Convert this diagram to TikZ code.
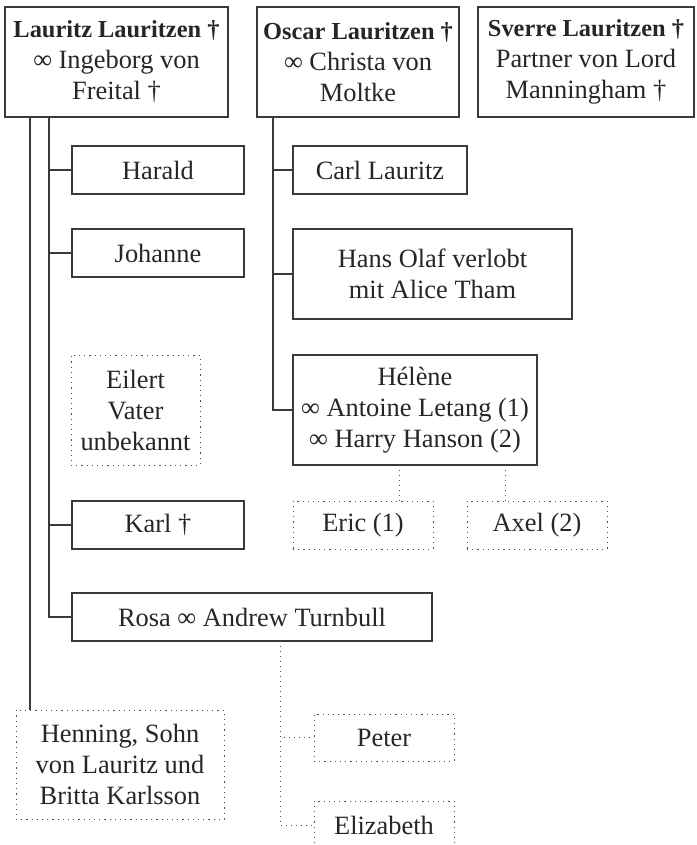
\documentclass[tikz,border=0pt]{standalone}
\usepackage{fontspec}
\setmainfont{Liberation Serif}
\definecolor{linegray}{HTML}{3A3A3A}
\newcommand{\headname}[1]{{\fontsize{12.2}{15.5}\selectfont\textbf{#1}}}
\tikzset{
  person/.style={draw=linegray, line width=0.6pt, align=center, inner sep=0pt,
    font=\fontsize{13.2}{15.5}\selectfont, text=black!85},
  unsure/.style={person, draw=black!70, dotted, line width=0.5pt},
  line/.style={draw=linegray, line width=0.6pt},
  kid/.style={draw=black!70, dotted, line width=0.5pt}
}
\begin{document}
\begin{tikzpicture}[x=0.5pt, y=-0.5pt]
\useasboundingbox (0,0) rectangle (696,845);
\clip (0,0) rectangle (696,845);
% parents
\node[person, minimum width=111.5pt, minimum height=55pt] (lauritz) at (116.5,62) {\headname{Lauritz Lauritzen †}\\∞ Ingeborg von\\Freital †};
\node[person, minimum width=101pt, minimum height=55pt] (oscar) at (358,62) {\headname{Oscar Lauritzen †}\\∞ Christa von\\Moltke};
\node[person, minimum width=108pt, minimum height=55pt] (sverre) at (586,62) {\headname{Sverre Lauritzen †}\\Partner von Lord\\Manningham †};
% children of Lauritz
\node[person, minimum width=86pt, minimum height=24pt] (harald) at (158,170) {Harald};
\node[person, minimum width=86pt, minimum height=24pt] (johanne) at (158,253) {Johanne};
\node[unsure, minimum width=64.5pt, minimum height=55pt] (eilert) at (135.5,410) {Eilert\\Vater\\unbekannt};
\node[person, minimum width=86pt, minimum height=24pt] (karl) at (158,525) {Karl †};
\node[person, minimum width=180pt, minimum height=24pt] (rosa) at (252,617) {Rosa ∞ Andrew Turnbull};
\node[unsure, minimum width=104pt, minimum height=54.5pt] (henning) at (120,764.5) {Henning, Sohn\\von Lauritz und\\Britta Karlsson};
% children of Oscar
\node[person, minimum width=87pt, minimum height=24pt] (carl) at (380,170) {Carl Lauritz};
\node[person, minimum width=139.5pt, minimum height=45pt] (hans) at (432.5,274) {Hans Olaf verlobt\\mit Alice Tham};
\node[person, minimum width=122pt, minimum height=55pt] (helene) at (415,410) {Hélène\\∞ Antoine Letang (1)\\∞ Harry Hanson (2)};
% grandchildren
\node[unsure, minimum width=70pt, minimum height=24pt] (eric) at (363,525) {Eric (1)};
\node[unsure, minimum width=70pt, minimum height=24pt] (axel) at (537,525) {Axel (2)};
\node[unsure, minimum width=70pt, minimum height=23.5pt] (peter) at (384,737.5) {Peter};
\node[unsure, minimum width=70pt, minimum height=24pt] (elizabeth) at (384,825) {Elizabeth};
% trunks
\coordinate (lauritzA) at (49,117);
\coordinate (lauritzB) at (30,117);
\coordinate (oscarA) at (273,117);
\coordinate (toEric) at (399,465);
\coordinate (toAxel) at (505,465);
\coordinate (rosaK) at (280,641);
\draw[line] (lauritzA) |- (harald.west);
\draw[line] (lauritzA) |- (johanne.west);
\draw[line] (lauritzA) |- (karl.west);
\draw[line] (lauritzA) |- (rosa.west);
\draw[line] (lauritzB) -- (lauritzB |- henning.north);
\draw[line] (oscarA) |- (carl.west);
\draw[line] (oscarA) |- (hans.west);
\draw[line] (oscarA) |- (helene.west);
\draw[kid] (toEric) -- (toEric |- eric.north);
\draw[kid] (toAxel) -- (toAxel |- axel.north);
\draw[kid] (rosaK) |- (peter.west);
\draw[kid] (rosaK) |- (elizabeth.west);
\end{tikzpicture}
\end{document}
